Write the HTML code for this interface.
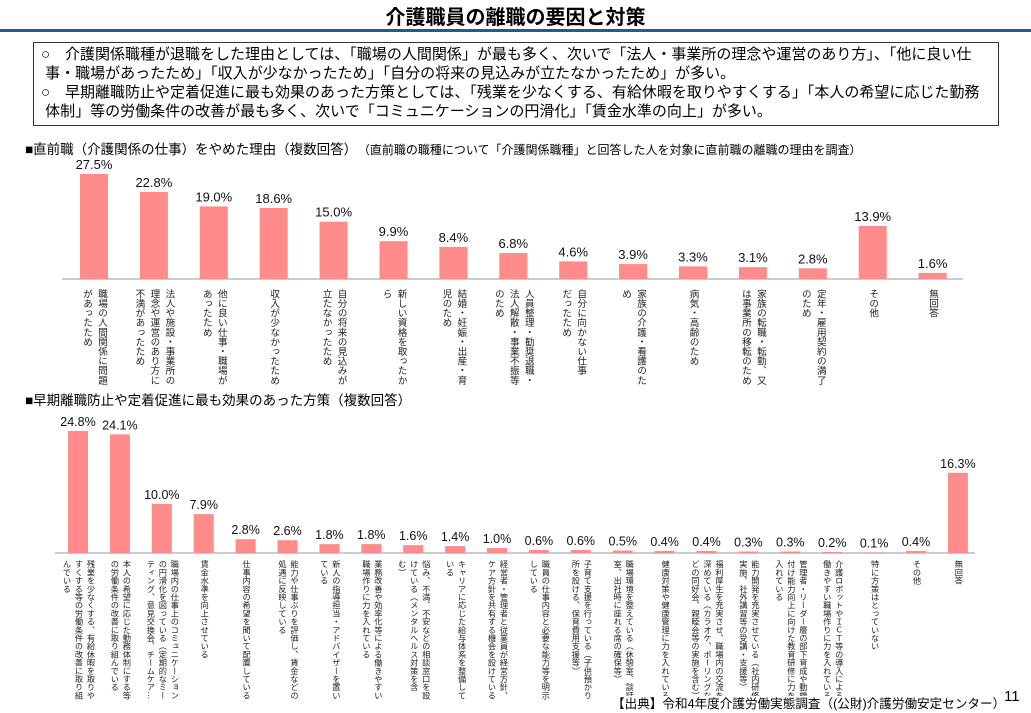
<!DOCTYPE html>
<html><head><meta charset="utf-8">
<style>
body{margin:0;width:1031px;height:713px;background:#fff;position:relative;overflow:hidden;font-family:"Liberation Sans","Noto Sans CJK JP",sans-serif;color:#000}
.abs{position:absolute;white-space:nowrap}
.vl{position:absolute;writing-mode:vertical-rl;white-space:nowrap;font-size:9.6px;line-height:15px;color:#222;transform:translateX(-50%)}
.vl2{font-size:8.2px;line-height:12px}
</style></head><body>
<div class="abs" style="left:0;width:1031px;text-align:center;top:1px;font-size:20px;font-weight:bold;">介護職員の離職の要因と対策</div>
<div class="abs" style="left:0;top:29px;width:1031px;height:3px;background:#1f5a9c"></div>
<div class="abs" style="left:33px;top:42px;width:966px;height:84px;border:1px solid #333;font-size:15px;line-height:19px;padding:2px 0 0 7px;box-sizing:border-box">○　介護関係職種が退職をした理由としては、「職場の人間関係」が最も多く、次いで「法人・事業所の理念や運営のあり方」、「他に良い仕<br>&nbsp;事・職場があったため」「収入が少なかったため」「自分の将来の見込みが立たなかったため」が多い。<br>○　早期離職防止や定着促進に最も効果のあった方策としては、「残業を少なくする、有給休暇を取りやすくする」「本人の希望に応じた勤務<br>&nbsp;体制」等の労働条件の改善が最も多く、次いで「コミュニケーションの円滑化」「賃金水準の向上」が多い。</div>
<div class="abs" style="left:25px;top:138px;font-size:13.5px">■直前職（介護関係の仕事）をやめた理由（複数回答）　<span style="font-size:12px">（直前職の職種について「介護関係職種」と回答した人を対象に直前職の離職の理由を調査）</span></div>
<div class="abs" style="left:25px;top:389px;font-size:13.5px">■早期離職防止や定着促進に最も効果のあった方策（複数回答）</div>
<svg id="svg" width="1031" height="713" style="position:absolute;left:0;top:0"></svg>
<div id="labels"></div>
<div class="abs" style="left:612px;top:696px;font-size:12.6px;background:#fff;line-height:16px">【出典】令和4年度介護労働実態調査（(公財)介護労働安定センター）</div>
<div class="abs" style="left:1004px;top:688px;font-size:15px">11</div>
<script>
const cats1=["職場の人間関係に問題<br>があったため","法人や施設・事業所の<br>理念や運営のあり方に<br>不満があったため","他に良い仕事・職場が<br>あったため","収入が少なかったため","自分の将来の見込みが<br>立たなかったため","新しい資格を取ったか<br>ら","結婚・妊娠・出産・育<br>児のため","人員整理・勧奨退職・<br>法人解散・事業不振等<br>のため","自分に向かない仕事<br>だったため","家族の介護・看護のた<br>め","病気・高齢のため","家族の転職・転勤、又<br>は事業所の移転のため","定年・雇用契約の満了<br>のため","その他","無回答"];
const vals1=[27.5,22.8,19.0,18.6,15.0,9.9,8.4,6.8,4.6,3.9,3.3,3.1,2.8,13.9,1.6];
const cats2=["残業を少なくする、有給休暇を取りや<br>すくする等の労働条件の改善に取り組<br>んでいる","本人の希望に応じた勤務体制にする等<br>の労働条件の改善に取り組んでいる","職場内の仕事上のコミュニケーション<br>の円滑化を図っている（定期的なミー<br>ティング、意見交換会、チームケア…","賃金水準を向上させている","仕事内容の希望を聞いて配置している","能力や仕事ぶりを評価し、賃金などの<br>処遇に反映している","新人の指導担当・アドバイザーを置い<br>ている","業務改善や効率化等による働きやすい<br>職場作りに力を入れている","悩み、不満、不安などの相談窓口を設<br>けている（メンタルヘルス対策を含<br>む）","キャリアに応じた給与体系を整備して<br>いる","経営者・管理者と従業員が経営方針、<br>ケア方針を共有する機会を設けている","職員の仕事内容と必要な能力等を明示<br>している","子育て支援を行っている（子供預かり<br>所を設ける、保育費用支援等）","職場環境を整えている（休憩室、談話<br>室、出社時に座れる席の確保等）","健康対策や健康管理に力を入れている","福利厚生を充実させ、職場内の交流を<br>深めている（カラオケ、ボーリングな<br>どの同好会、親睦会等の実施を含む）","能力開発を充実させている（社内研修<br>実施、社外講習等の受講・支援等）","管理者・リーダー層の部下育成や動機<br>付け能力向上に向けた教育研修に力を<br>入れている","介護ロボットやＩＣＴ等の導入による<br>働きやすい職場作りに力を入れている","特に方策はとっていない","その他","無回答"];
const vals2=[24.8,24.1,10.0,7.9,2.8,2.6,1.8,1.8,1.6,1.4,1.0,0.6,0.6,0.5,0.4,0.4,0.3,0.3,0.2,0.1,0.4,16.3];
const NS="http://www.w3.org/2000/svg";
const svg=document.getElementById('svg');
const lab=document.getElementById('labels');
function mk(t,a){const e=document.createElementNS(NS,t);for(const k in a)e.setAttribute(k,a[k]);svg.appendChild(e);return e;}
function chart(cats,vals,x0,step,base,scale,bw,axL,axR,labTop,cls,fs,id){
  const ax=mk('line',{x1:axL,x2:axR,y1:base,y2:base,stroke:'#bbb','stroke-width':1.5});
  
  
  vals.forEach((v,i)=>{
    const cx=x0+i*step, h=v*scale;
    const r=mk('rect',{x:cx-bw/2,y:base-h,width:bw,height:h,fill:'#ff8b8b'});
    
    
    const t=mk('text',{x:cx,y:base-h-5,'text-anchor':'middle','font-size':fs,'font-family':'Liberation Sans, sans-serif',fill:'#111'});
    t.textContent=v.toFixed(1)+'%';
    
    
    const d=document.createElement('div');
    d.className='vl '+cls;
    d.style.left=cx+'px';d.style.top=labTop+'px';
    d.innerHTML=cats[i];
    
    
    lab.appendChild(d);
  });
}
chart(cats1,vals1,94,59.9,279,3.82,28,62,963,289,'',13,'chart1');
chart(cats2,vals2,78,41.9,553,4.92,20,55,975,560,'vl2',12.5,'chart2');
</script>
</body></html>
